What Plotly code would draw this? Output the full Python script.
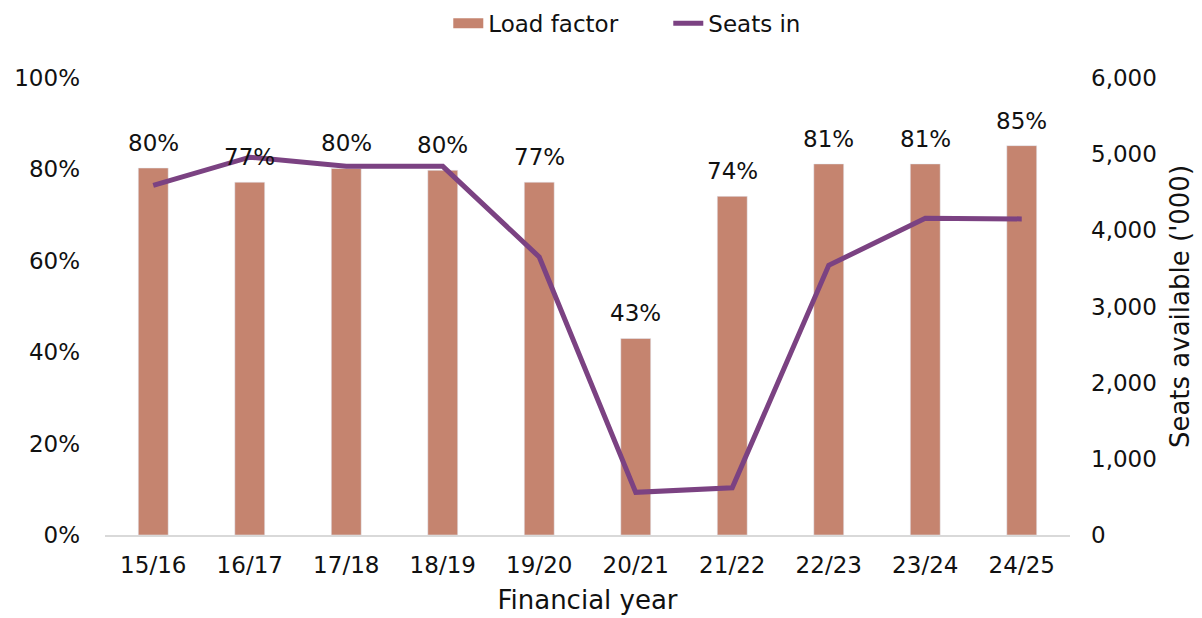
import plotly.graph_objects as go

years = ["15/16", "16/17", "17/18", "18/19", "19/20", "20/21", "21/22", "22/23", "23/24", "24/25"]
load_factor = [0.803, 0.772, 0.802, 0.798, 0.772, 0.430, 0.741, 0.812, 0.812, 0.852]
seats = [4590, 4960, 4840, 4840, 3650, 560, 620, 3540, 4160, 4150]

FONT = "DejaVu Sans, Verdana, sans-serif"
BAR_COLOR = "#C5846F"
LINE_COLOR = "#7B4282"
TICK = 23

fig = go.Figure()
fig.add_trace(go.Bar(
    x=years, y=load_factor, name="Load factor",
    marker=dict(color=BAR_COLOR), showlegend=False,
))
# legend-only entry to get a wide rectangular swatch for the bars
fig.add_trace(go.Scatter(
    x=[years[0]], y=[None], name="Load factor", mode="lines",
    line=dict(color=BAR_COLOR, width=14), hoverinfo="skip",
))
fig.add_trace(go.Scatter(
    x=years, y=seats, name="Seats in", mode="lines",
    line=dict(color=LINE_COLOR, width=5),
    yaxis="y2",
))

for yr, v in zip(years, load_factor):
    fig.add_annotation(
        x=yr, y=v, xref="x", yref="y", text=f"{v:.0%}", showarrow=False,
        yanchor="bottom", yshift=10,
        font=dict(size=23, color="#111111", family=FONT),
    )

fig.update_layout(
    width=1194, height=610,
    margin=dict(l=97, r=132, t=70, b=83, autoexpand=False),
    paper_bgcolor="white", plot_bgcolor="white",
    font=dict(family=FONT, size=TICK, color="#111111"),
    bargap=0.69,
    showlegend=True,
    legend=dict(orientation="h", x=0.553, xanchor="center", xref="container",
                y=0.975, yanchor="middle", yref="container",
                font=dict(size=23), entrywidth=175, traceorder="normal"),
    xaxis=dict(
        showgrid=False, showline=True, linecolor="#d9d9d9", linewidth=2,
        ticks="", tickfont=dict(size=TICK), ticklabelstandoff=8,
        title=dict(text="Financial year", font=dict(size=26), standoff=14),
    ),
    yaxis=dict(
        range=[0, 1.0], tickformat=".0%", dtick=0.2,
        showgrid=False, zeroline=False, showline=False, ticks="",
        tickfont=dict(size=TICK), ticklabelstandoff=24,
    ),
    yaxis2=dict(
        range=[0, 6000], dtick=1000, tickformat=",",
        overlaying="y", side="right",
        showgrid=False, zeroline=False, showline=False, ticks="",
        tickfont=dict(size=TICK), ticklabelstandoff=20,
        title=dict(text="Seats available ('000)", font=dict(size=26), standoff=14),
    ),
)

fig.write_html("out.html")
